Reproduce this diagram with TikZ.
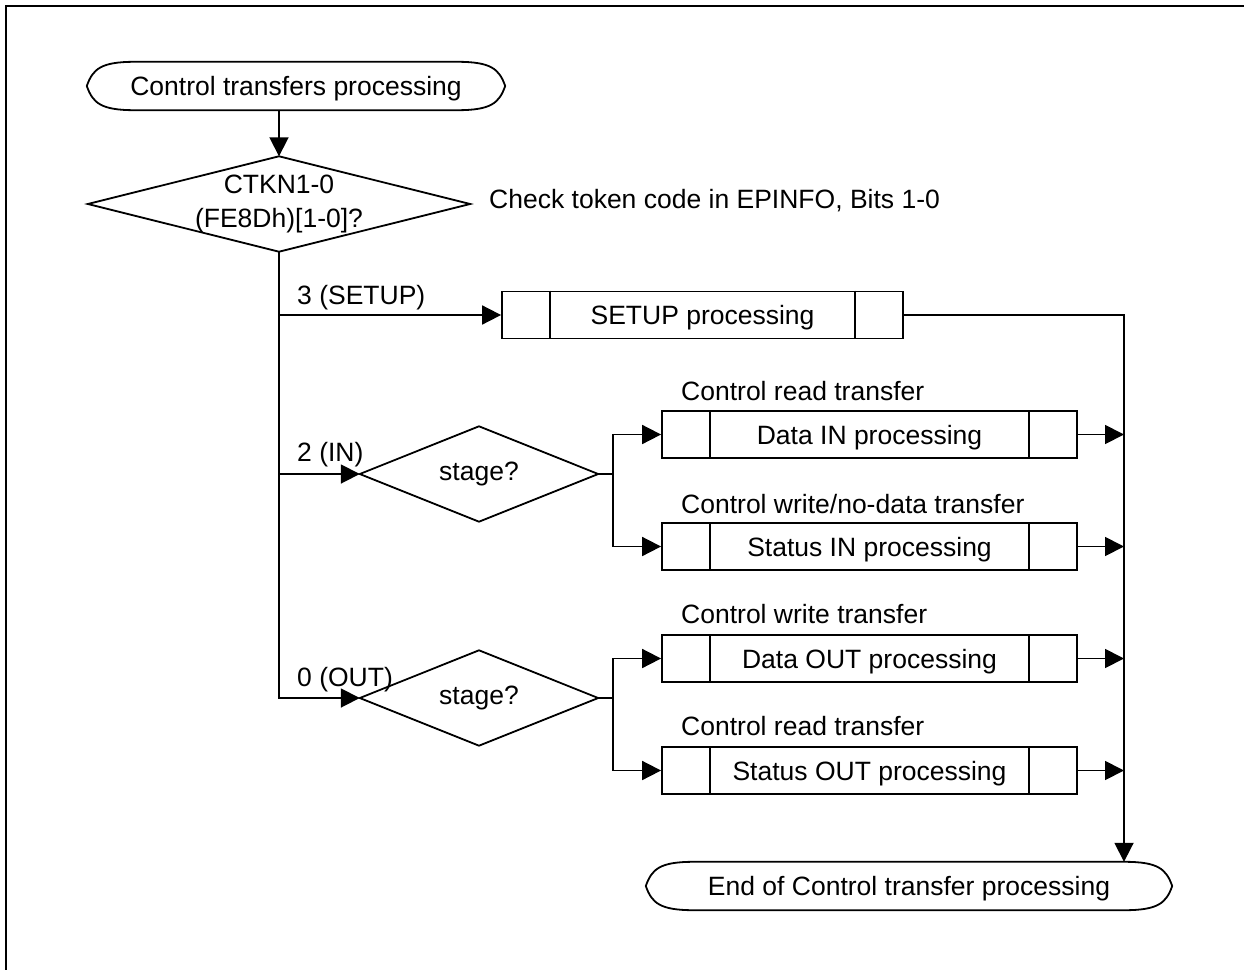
\documentclass[tikz,border=0pt]{standalone}
\usepackage{fontspec}
\setmainfont{Liberation Sans}
\usetikzlibrary{arrows.meta,calc}
\newcommand\termpath[1]{%
  \draw[ln] (#1.west) .. controls ($(#1.west)+(6,-17)$) and ($(#1.north west)+(14,0)$) .. ($(#1.north west)+(48,0)$)
    -- ($(#1.north east)+(-48,0)$) .. controls ($(#1.north east)+(-14,0)$) and ($(#1.east)+(-6,-17)$) .. (#1.east)
    .. controls ($(#1.east)+(-6,17)$) and ($(#1.south east)+(-14,0)$) .. ($(#1.south east)+(-48,0)$)
    -- ($(#1.south west)+(48,0)$) .. controls ($(#1.south west)+(14,0)$) and ($(#1.west)+(6,17)$) .. (#1.west) -- cycle;}
\newcommand\procbox[5]{%
  \node[procshape, minimum width=#4pt] (#1) at (#2,#3) {#5};
  \draw[ln] ([xshift=49pt]#1.north west) -- ([xshift=49pt]#1.south west);
  \draw[ln] ([xshift=-49pt]#1.north east) -- ([xshift=-49pt]#1.south east);}
\newcommand\diapath[1]{%
  \draw[ln] (#1.north) -- (#1.east) -- (#1.south) -- (#1.west) -- cycle;}
\begin{document}
\begin{tikzpicture}[x=1pt,y=-1pt,
  every node/.style={font=\fontsize{26.5}{34}\selectfont, inner sep=0pt},
  ln/.style={line width=1.8pt},
  arr/.style={ln, -{Triangle[length=19pt,width=19pt]}},
  procshape/.style={draw, ln, rectangle, minimum height=47pt, text depth=0pt},
  dia/.style={minimum height=95pt, align=center},
  term/.style={minimum height=48pt, text depth=0pt},
  lbl/.style={anchor=west},
]
\useasboundingbox (0,0) rectangle (1244,969);
\draw[line width=2.5pt] (6,980) -- (6,6) -- (1260,6);

% start
\node[term, minimum width=418pt] (start) at (296,86) {Control transfers processing};
\termpath{start}

% first decision
\node[dia, minimum width=382pt] (d1) at (279,204) {CTKN1-0\\(FE8Dh)[1-0]?};
\diapath{d1}
\node[lbl] (note) at (489,201) {Check token code in EPINFO, Bits 1-0};

% SETUP
\procbox{setup}{702.5}{315}{401}{SETUP processing}

% stage diamonds
\node[dia, minimum width=238pt] (stIn) at (479,474) {stage?};
\diapath{stIn}
\node[dia, minimum width=238pt] (stOut) at (479,698) {stage?};
\diapath{stOut}

% boxes
\procbox{bDataIn}{869.5}{434.5}{415}{Data IN processing}
\procbox{bStatIn}{869.5}{546.5}{415}{Status IN processing}
\procbox{bDataOut}{869.5}{658.5}{415}{Data OUT processing}
\procbox{bStatOut}{869.5}{770.5}{415}{Status OUT processing}

% end
\node[term, minimum width=526pt] (end) at (909,886) {End of Control transfer processing};
\termpath{end}

% labels
\node[lbl] (l3) at (297,298) {3 (SETUP)};
\node[lbl] (l2) at (297,455) {2 (IN)};
\node[lbl] (l0) at (297,680) {0 (OUT)};
\node[lbl] (lcr1) at (681,391) {Control read transfer};
\node[lbl] (lcw1) at (681,504) {Control write/no-data transfer};
\node[lbl] (lcw2) at (681,614) {Control write transfer};
\node[lbl] (lcr2) at (681,726) {Control read transfer};

% connectors
\draw[arr] (start.south -| d1.north) -- (d1.north);
\draw[arr] (d1.south) |- (stOut.west);
\draw[arr] (d1.south |- setup.west) -- (setup.west);
\draw[arr] (d1.south |- stIn.west) -- (stIn.west);

\coordinate (jIn) at (613,474);
\coordinate (jOut) at (613,698);
\draw[ln] (stIn.east) -- (jIn);
\draw[arr] (jIn) |- (bDataIn.west);
\draw[arr] (jIn) |- (bStatIn.west);
\draw[ln] (stOut.east) -- (jOut);
\draw[arr] (jOut) |- (bDataOut.west);
\draw[arr] (jOut) |- (bStatOut.west);

\coordinate (bus) at (1124,315);
\draw[arr] (setup.east) -- (bus) -- (bus |- end.north);
\draw[arr] (bDataIn.east) -- (bDataIn.east -| bus);
\draw[arr] (bStatIn.east) -- (bStatIn.east -| bus);
\draw[arr] (bDataOut.east) -- (bDataOut.east -| bus);
\draw[arr] (bStatOut.east) -- (bStatOut.east -| bus);
\end{tikzpicture}
\end{document}
